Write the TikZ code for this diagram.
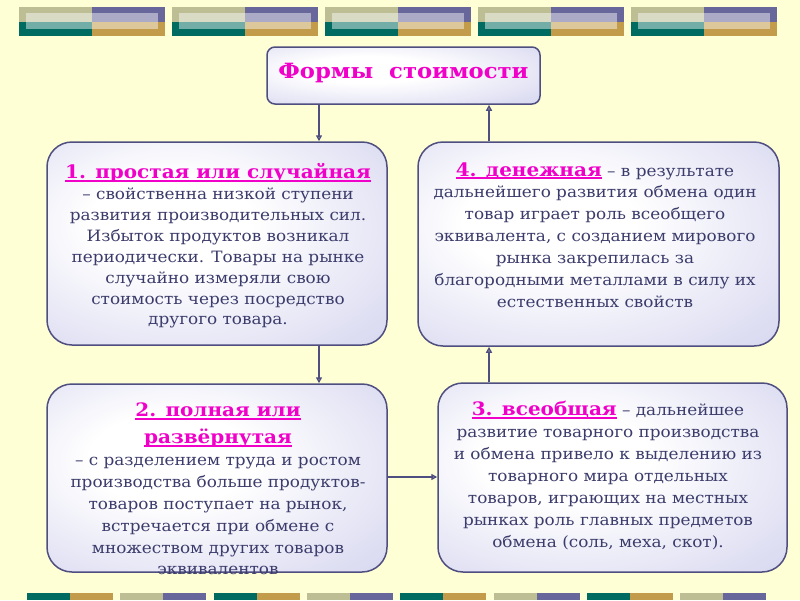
\documentclass[tikz,border=0pt]{standalone}
\usepackage{fontspec}
\setmainfont{DejaVu Serif}[FakeStretch=1.08]
\usetikzlibrary{arrows.meta}
\definecolor{bg}{HTML}{FFFFD6}
\definecolor{olv}{HTML}{BDBE94}
\definecolor{prp}{HTML}{67679B}
\definecolor{tea}{HTML}{006B60}
\definecolor{gld}{HTML}{C29C4A}
\definecolor{bordc}{HTML}{4E4E80}
\definecolor{lav}{HTML}{BCBCE6}
\definecolor{txtc}{HTML}{3C3C6C}
\definecolor{mag}{HTML}{F000C8}
\pgfdeclareradialshading{boxshade}{\pgfpoint{-8bp}{6bp}}{color(0bp)=(white); color(12bp)=(white); color(38bp)=(lav!55!white); color(60bp)=(lav); color(80bp)=(lav)}
\newcommand{\myhead}[1]{{\color{mag}\bfseries\fontsize{18.5}{22}\selectfont\setbox0=\hbox{#1}\rlap{\rule[-3pt]{\wd0}{1.6pt}}\box0}}
\begin{document}
\begin{tikzpicture}[x=1pt,y=-1pt,
  boxst/.style={draw=bordc, line width=1.5pt, rounded corners=25pt, inner sep=0pt,
    shading=boxshade},
  txt/.style={align=center, text=txtc, inner sep=0pt, font=\fontsize{15.6}{21.9}\selectfont},
  arr/.style={draw=bordc, line width=1.5pt, -{Triangle[open, width=6pt, length=6pt]}}]
\useasboundingbox (0,0) rectangle (800,600);
\fill[bg] (0,0) rectangle (800,600);
% top strips
\foreach \i in {0,...,4}{
  \pgfmathsetmacro{\xa}{19+153*\i}
  \fill[olv] (\xa,7) rectangle ++(73,15);
  \fill[prp] (\xa+73,7) rectangle ++(73,15);
  \fill[tea] (\xa,22) rectangle ++(73,14);
  \fill[gld] (\xa+73,22) rectangle ++(73,14);
  \fill[white, opacity=0.45] (\xa+7,13) rectangle (\xa+139,29);
}
% bottom strips
\foreach \i in {0,...,7}{
  \pgfmathsetmacro{\xa}{27+93.3*\i}
  \ifodd\i
    \fill[olv] (\xa,593) rectangle ++(43,7);
    \fill[prp] (\xa+43,593) rectangle ++(43,7);
  \else
    \fill[tea] (\xa,593) rectangle ++(43,7);
    \fill[gld] (\xa+43,593) rectangle ++(43,7);
  \fi
}
% boxes
\node[boxst, rounded corners=8pt, minimum width=273pt, minimum height=57pt] (top) at (403.5,75.5) {};
\node[inner sep=0pt, text=mag, font=\bfseries\fontsize{21}{24}\selectfont] (toptxt) at (403.5,73) {Формы\ \ стоимости};
\node[boxst, minimum width=340pt, minimum height=203pt] (b1) at (217,243.5) {};
\node[boxst, minimum width=361pt, minimum height=204pt] (b4) at (598.5,244) {};
\node[boxst, minimum width=340pt, minimum height=188pt] (b2) at (217,478) {};
\node[boxst, minimum width=349pt, minimum height=189pt] (b3) at (612.5,477.5) {};
% texts
\node[txt, font=\fontsize{15.6}{20.9}\selectfont] (t1) at (218,246) {\myhead{1. простая или случайная}\\
– свойственна низкой ступени\\
развития производительных сил.\\
Избыток продуктов возникал\\
периодически. Товары на рынке\\
случайно измеряли свою\\
стоимость через посредство\\
другого товара.};
\node[txt] (t4) at (595,235) {\myhead{4. денежная} – в результате\\
дальнейшего развития обмена один\\
товар играет роль всеобщего\\
эквивалента, с созданием мирового\\
рынка закрепилась за\\
благородными металлами в силу их\\
естественных свойств};
\node[txt] (t2) at (218,489) {\myhead{2. полная или}\\[5pt]
\myhead{развёрнутая}\\
– с разделением труда и ростом\\
производства больше продуктов-\\
товаров поступает на рынок,\\
встречается при обмене с\\
множеством других товаров\\
эквивалентов};
\node[txt] (t3) at (608,475.5) {\myhead{3. всеобщая} – дальнейшее\\
развитие товарного производства\\
и обмена привело к выделению из\\
товарного мира отдельных\\
товаров, играющих на местных\\
рынках роль главных предметов\\
обмена (соль, меха, скот).};
% connectors
\coordinate (cx1) at (319,0);
\coordinate (cx2) at (489,0);
\coordinate (cy) at (0,477);
\draw[arr] (top.south -| cx1) -- (b1.north -| cx1);
\draw[arr] (b4.north -| cx2) -- (top.south -| cx2);
\draw[arr] (b1.south -| cx1) -- (b2.north -| cx1);
\draw[arr] (b3.north -| cx2) -- (b4.south -| cx2);
\draw[arr] (b2.east |- cy) -- (b3.west |- cy);
\end{tikzpicture}
\end{document}
